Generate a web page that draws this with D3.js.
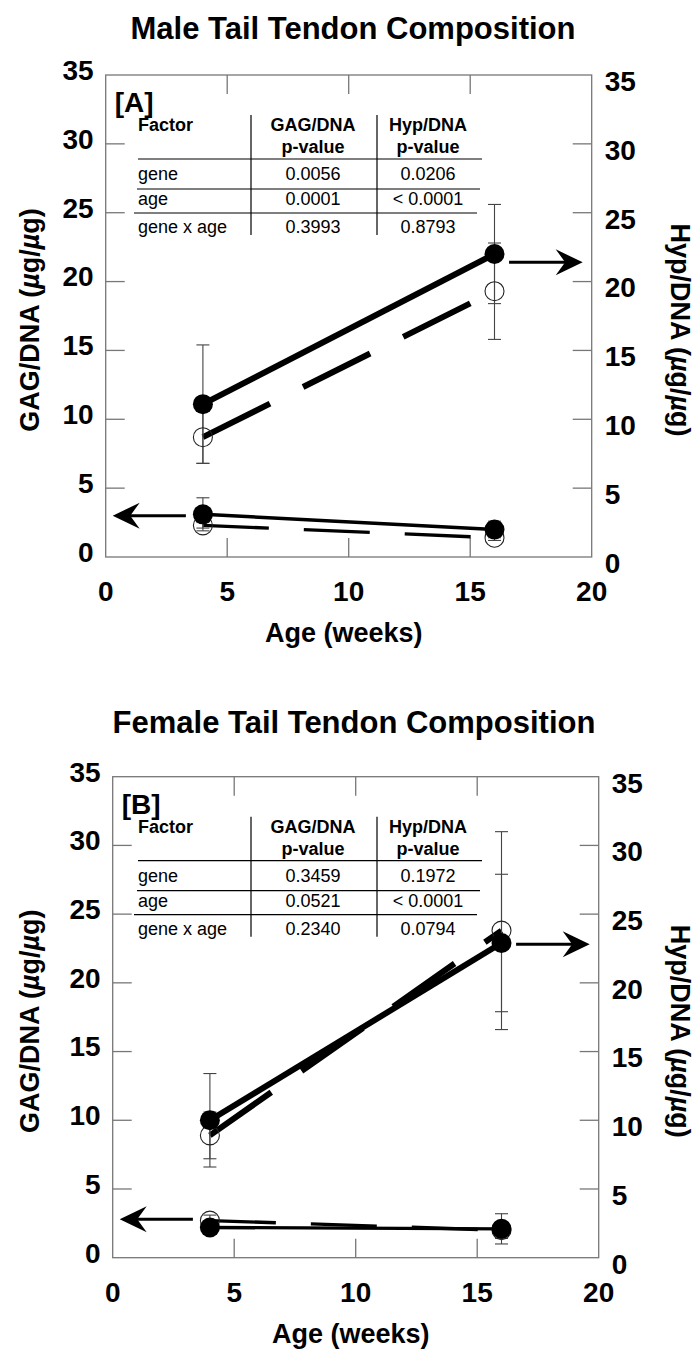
<!DOCTYPE html>
<html>
<head>
<meta charset="utf-8">
<script src="https://cdn.jsdelivr.net/npm/d3@7"></script>
<style>
body { margin: 0; background: #fff; }
text { font-family: "Liberation Sans", Arial, Helvetica, sans-serif; fill: #000; }
</style>
</head>
<body>
<svg id="chart" width="699" height="1357"></svg>
<script>
// ---- data ----
var ages = [4, 16];
var xTicks = [0, 5, 10, 15, 20];
var yTicks = [0, 5, 10, 15, 20, 25, 30, 35];

// male (panel A)
var maleHypFilled = [11.1, 22.0], maleHypFilledErr = [4.3, 3.6];
var maleHypOpen = [8.7, 19.3], maleHypOpenErr = [1.9, 3.5];
var maleGagFilled = [3.1, 2.0], maleGagFilledErr = [1.2, 0.6];
var maleGagOpen = [2.3, 1.4], maleGagOpenErr = [0.2, 0.2];

// female (panel B)
var femHypFilled = [10.0, 22.9], femHypFilledErr = [3.4, 5.0];
var femHypOpen = [8.9, 23.8], femHypOpenErr = [1.7, 7.2];
var femGagFilled = [2.2, 2.1], femGagFilledErr = [0.3, 1.1];
var femGagOpen = [2.7, 2.0], femGagOpenErr = [0.4, 0.6];

// p-value tables
var factors = ["gene", "age", "gene x age"];
var maleGagP = ["0.0056", "0.0001", "0.3993"];
var maleHypP = ["0.0206", "< 0.0001", "0.8793"];
var femGagP = ["0.3459", "0.0521", "0.2340"];
var femHypP = ["0.1972", "< 0.0001", "0.0794"];

var svg = d3.select("#chart");
var grey = "#777";

function series(vals, errs) {
  return ages.map(function(a, i) { return {x: a, y: vals[i], e: errs[i]}; });
}

function drawPanel(p) {
  var x = d3.scaleLinear().domain([0, 20]).range([p.left, p.right]);
  var y = d3.scaleLinear().domain([0, 35]).range([p.bottom, p.top]);
  var g = svg.append("g");

  // title
  g.append("text").attr("x", p.titleX).attr("y", p.titleY).attr("dy", "0.35em")
    .attr("text-anchor", "middle").attr("font-weight", "bold").attr("font-size", 31)
    .text(p.title);

  // frame
  g.append("rect").attr("x", p.left).attr("y", p.top)
    .attr("width", p.right - p.left).attr("height", p.bottom - p.top)
    .attr("fill", "none").attr("stroke", grey).attr("stroke-width", 1.3);

  // inward ticks (all four sides)
  var tl = 19;
  yTicks.slice(1, -1).forEach(function(t) {
    g.append("line").attr("x1", p.left).attr("x2", p.left + tl).attr("y1", y(t)).attr("y2", y(t))
      .attr("stroke", grey).attr("stroke-width", 1.3);
    g.append("line").attr("x1", p.right).attr("x2", p.right - tl).attr("y1", y(t)).attr("y2", y(t))
      .attr("stroke", grey).attr("stroke-width", 1.3);
  });
  xTicks.slice(1, -1).forEach(function(t) {
    g.append("line").attr("x1", x(t)).attr("x2", x(t)).attr("y1", p.bottom).attr("y2", p.bottom - tl)
      .attr("stroke", grey).attr("stroke-width", 1.3);
    g.append("line").attr("x1", x(t)).attr("x2", x(t)).attr("y1", p.top).attr("y2", p.top + tl)
      .attr("stroke", grey).attr("stroke-width", 1.3);
  });

  // tick labels
  yTicks.forEach(function(t) {
    g.append("text").attr("x", p.left - 12).attr("y", y(t) - 5).attr("dy", "0.35em")
      .attr("text-anchor", "end").attr("font-weight", "bold").attr("font-size", 28).text(t);
    g.append("text").attr("x", p.right + 13).attr("y", y(t) + 6).attr("dy", "0.35em")
      .attr("text-anchor", "start").attr("font-weight", "bold").attr("font-size", 28).text(t);
  });
  xTicks.forEach(function(t) {
    g.append("text").attr("x", x(t)).attr("y", p.bottom + 34).attr("dy", "0.35em")
      .attr("text-anchor", "middle").attr("font-weight", "bold").attr("font-size", 28).text(t);
  });

  // axis titles
  g.append("text").attr("x", (p.left + p.right) / 2 - 5).attr("y", p.bottom + 76).attr("dy", "0.35em")
    .attr("text-anchor", "middle").attr("font-weight", "bold").attr("font-size", 27).text("Age (weeks)");

  var lt = g.append("text").attr("transform", "translate(30," + ((p.top + p.bottom) / 2 + 4) + ") rotate(-90)")
    .attr("dy", "0.35em").attr("text-anchor", "middle").attr("font-weight", "bold").attr("font-size", 27);
  lt.append("tspan").text("GAG/DNA (");
  lt.append("tspan").attr("font-style", "italic").text("\u00b5");
  lt.append("tspan").text("g/");
  lt.append("tspan").attr("font-style", "italic").text("\u00b5");
  lt.append("tspan").text("g)");

  var rt = g.append("text").attr("transform", "translate(680," + ((p.top + p.bottom) / 2 + 14) + ") rotate(90)")
    .attr("dy", "0.35em").attr("text-anchor", "middle").attr("font-weight", "bold").attr("font-size", 27);
  rt.append("tspan").text("Hyp/DNA (");
  rt.append("tspan").attr("font-style", "italic").text("\u00b5");
  rt.append("tspan").text("g/");
  rt.append("tspan").attr("font-style", "italic").text("\u00b5");
  rt.append("tspan").text("g)");

  // panel letter
  g.append("text").attr("x", p.left + 9).attr("y", p.top + 27).attr("dy", "0.35em")
    .attr("font-weight", "bold").attr("font-size", 28).text(p.letter);

  // table
  var tx = p.tableX, t0 = p.top;
  var c1 = 313, c2 = 428, v1 = 251, v2 = 377;
  [["Factor", tx, "start", 50], ["GAG/DNA", c1, "middle", 50], ["p-value", c1, "middle", 72],
   ["Hyp/DNA", c2, "middle", 50], ["p-value", c2, "middle", 72]].forEach(function(h) {
    g.append("text").attr("x", h[1]).attr("y", t0 + h[3]).attr("dy", "0.35em")
      .attr("text-anchor", h[2]).attr("font-weight", "bold").attr("font-size", 18).text(h[0]);
  });
  var rowY = [99, 124, 152];
  factors.forEach(function(f, i) {
    g.append("text").attr("x", tx).attr("y", t0 + rowY[i]).attr("dy", "0.35em")
      .attr("font-size", 18).text(f);
    g.append("text").attr("x", c1).attr("y", t0 + rowY[i]).attr("dy", "0.35em")
      .attr("text-anchor", "middle").attr("font-size", 18).text(p.gagP[i]);
    g.append("text").attr("x", c2).attr("y", t0 + rowY[i]).attr("dy", "0.35em")
      .attr("text-anchor", "middle").attr("font-size", 18).text(p.hypP[i]);
  });
  [[84, tx, 482], [114, tx - 1, 480], [138, tx - 4, 477]].forEach(function(r) {
    g.append("line").attr("x1", r[1]).attr("x2", r[2]).attr("y1", t0 + r[0]).attr("y2", t0 + r[0])
      .attr("stroke", "#000").attr("stroke-width", 1.2);
  });
  [v1, v2].forEach(function(v) {
    g.append("line").attr("x1", v).attr("x2", v).attr("y1", t0 + 40).attr("y2", t0 + 160)
      .attr("stroke", "#000").attr("stroke-width", 1.2);
  });

  var line = d3.line().x(function(d) { return x(d.x); }).y(function(d) { return y(d.y); });

  // lines
  g.append("path").datum(p.hypOpen).attr("d", line).attr("fill", "none").attr("stroke", "#000")
    .attr("stroke-width", 6).attr("stroke-dasharray", "75,37");
  g.append("path").datum(p.hypFilled).attr("d", line).attr("fill", "none").attr("stroke", "#000")
    .attr("stroke-width", 6);
  g.append("path").datum(p.gagOpen).attr("d", line).attr("fill", "none").attr("stroke", "#000")
    .attr("stroke-width", 3.4).attr("stroke-dasharray", "66,35");
  g.append("path").datum(p.gagFilled).attr("d", line).attr("fill", "none").attr("stroke", "#000")
    .attr("stroke-width", 3.4);

  // error bars
  var all = [].concat(p.hypOpen, p.hypFilled, p.gagOpen, p.gagFilled);
  var eb = g.append("g").attr("stroke", "#444").attr("stroke-width", 1.1);
  all.forEach(function(d) {
    eb.append("line").attr("x1", x(d.x)).attr("x2", x(d.x)).attr("y1", y(d.y - d.e)).attr("y2", y(d.y + d.e));
    [d.y - d.e, d.y + d.e].forEach(function(v) {
      eb.append("line").attr("x1", x(d.x) - 6.5).attr("x2", x(d.x) + 6.5).attr("y1", y(v)).attr("y2", y(v));
    });
  });

  // markers
  [].concat(p.hypOpen, p.gagOpen).forEach(function(d) {
    g.append("circle").attr("cx", x(d.x)).attr("cy", y(d.y)).attr("r", 9.5)
      .attr("fill", "none").attr("stroke", "#222").attr("stroke-width", 1.1);
  });
  [].concat(p.hypFilled, p.gagFilled).forEach(function(d) {
    g.append("circle").attr("cx", x(d.x)).attr("cy", y(d.y)).attr("r", 10).attr("fill", "#000");
  });

  // arrows pointing to the axis each series belongs to
  function arrow(x0, x1, yv) {
    var yy = y(yv), dir = x1 > x0 ? 1 : -1, hl = 27, hw = 13;
    g.append("line").attr("x1", x0).attr("x2", x1 - dir * hl * 0.6).attr("y1", yy).attr("y2", yy)
      .attr("stroke", "#000").attr("stroke-width", 3);
    g.append("path").attr("fill", "#000")
      .attr("d", "M" + x1 + "," + yy +
        " L" + (x1 - dir * hl) + "," + (yy - hw) +
        " L" + (x1 - dir * hl * 0.65) + "," + yy +
        " L" + (x1 - dir * hl) + "," + (yy + hw) + " Z");
  }
  arrow(x(16.6), p.right - 9, p.arrowHyp);
  arrow(x(3.3), p.left + 7, p.arrowGag);
}

drawPanel({
  title: "Male Tail Tendon Composition", titleX: 353, titleY: 28, letter: "[A]",
  left: 105.7, right: 591.7, top: 75, bottom: 557, tableX: 138,
  gagP: maleGagP, hypP: maleHypP,
  hypFilled: series(maleHypFilled, maleHypFilledErr), hypOpen: series(maleHypOpen, maleHypOpenErr),
  gagFilled: series(maleGagFilled, maleGagFilledErr), gagOpen: series(maleGagOpen, maleGagOpenErr),
  arrowHyp: 21.4, arrowGag: 3.0
});

drawPanel({
  title: "Female Tail Tendon Composition", titleX: 354, titleY: 722, letter: "[B]",
  left: 112.7, right: 598.7, top: 776.7, bottom: 1257.7, tableX: 138,
  gagP: femGagP, hypP: femHypP,
  hypFilled: series(femHypFilled, femHypFilledErr), hypOpen: series(femHypOpen, femHypOpenErr),
  gagFilled: series(femGagFilled, femGagFilledErr), gagOpen: series(femGagOpen, femGagOpenErr),
  arrowHyp: 22.8, arrowGag: 2.8
});
</script>
</body>
</html>
